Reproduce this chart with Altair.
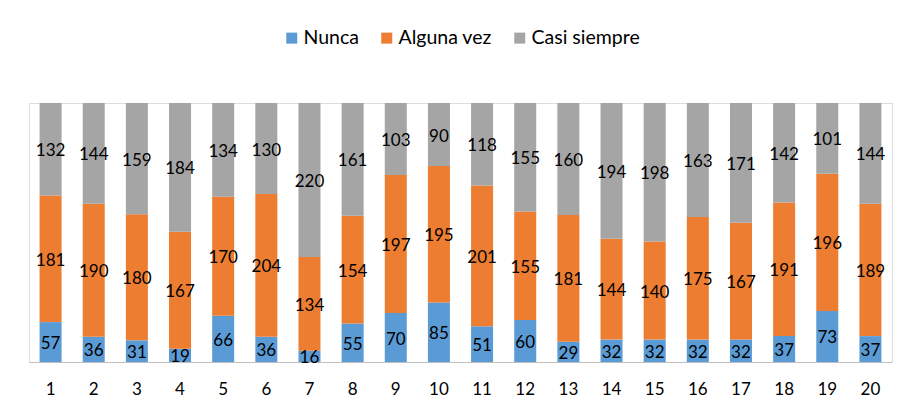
import altair as alt
import pandas as pd

categories = [str(i) for i in range(1, 21)]
series = ["Nunca", "Alguna vez", "Casi siempre"]
colors = ["#5B9BD5", "#ED7D31", "#A5A5A5"]
nunca = [57, 36, 31, 19, 66, 36, 16, 55, 70, 85, 51, 60, 29, 32, 32, 32, 32, 37, 73, 37]
alguna = [181, 190, 180, 167, 170, 204, 134, 154, 197, 195, 201, 155, 181, 144, 140, 175, 167, 191, 196, 189]
casi = [132, 144, 159, 184, 134, 130, 220, 161, 103, 90, 118, 155, 160, 194, 198, 163, 171, 142, 101, 144]

rows = []
for vals, name, k in [(nunca, series[0], 0), (alguna, series[1], 1), (casi, series[2], 2)]:
    for c, v in zip(categories, vals):
        rows.append({"cat": c, "serie": name, "valor": v, "orden": k})
df = pd.DataFrame(rows)

FONT = "Lato"

base = alt.Chart(df).transform_stack(
    stack="valor", groupby=["cat"], as_=["y0", "y1"],
    sort=[alt.SortField("orden", order="ascending")]
).transform_calculate(mid="(datum.y0 + datum.y1) / 2")

xenc = alt.X("cat:N", sort=categories, title=None,
             scale=alt.Scale(paddingInner=0.49, paddingOuter=0.245),
             axis=alt.Axis(labelAngle=0, ticks=False, domainColor="#BFBFBF", domainWidth=1.2,
                           labelPadding=19, labelFontSize=17, labelFont=FONT, labelColor="#000000",
                           grid=False))
yscale = alt.Scale(domain=[0, 370], nice=False)

bars = base.mark_bar().encode(
    x=xenc,
    y=alt.Y("y0:Q", scale=yscale, axis=None),
    y2="y1:Q",
    color=alt.Color("serie:N", sort=series,
                    scale=alt.Scale(domain=series, range=colors),
                    legend=alt.Legend(title=None, orient="none", direction="horizontal",
                                      legendX=253, legendY=-75, symbolType="square",
                                      symbolSize=121, symbolStrokeWidth=0, labelFontSize=19.5,
                                      labelFont=FONT, labelColor="#000000", columnPadding=18,
                                      labelOffset=2)),
)

labels = base.mark_text(font=FONT, fontSize=17, color="#000000", baseline="middle", dy=2).encode(
    x=alt.X("cat:N", sort=categories),
    y=alt.Y("mid:Q", scale=yscale),
    text="valor:Q",
)

chart = alt.layer(bars, labels).properties(
    width=863, height=259,
    padding={"left": 21, "top": 95, "right": 7, "bottom": 42},
    autosize=alt.AutoSizeParams(type="none"),
).configure_view(stroke=None).configure(background="#FFFFFF")

chart.save("out.html", embed_options={"renderer": "svg", "actions": False})
